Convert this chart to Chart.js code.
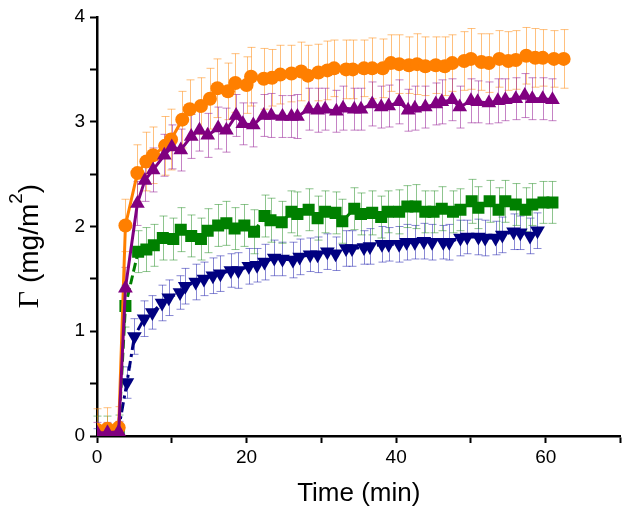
<!DOCTYPE html>
<html>
<head>
<meta charset="utf-8">
<script src="https://cdn.jsdelivr.net/npm/chart.js@4/dist/chart.umd.min.js"></script>
<style>
  html, body { margin: 0; padding: 0; background: #fff; }
  #wrap { width: 629px; height: 516px; position: relative; }
</style>
</head>
<body>
<div id="wrap"><canvas id="c"></canvas></div>
<script>
// ---- Data ----
const xTickLabels = ['0', '20', '40', '60'];
const yTickLabels = ['0', '1', '2', '3', '4'];

const timeOrange = [0, 1.4, 2.9, 3.8, 5.4, 6.6, 7.5, 9.1, 9.9, 11.4, 12.4, 13.9, 15.1, 16.1, 17.5, 18.5, 20.0, 20.6, 22.3, 23.4, 24.5, 26.0, 27.3, 28.2, 29.6, 30.8, 31.7, 33.3, 34.2, 35.7, 36.8, 38.2, 39.3, 40.4, 41.7, 42.8, 43.9, 45.3, 46.5, 47.5, 49.1, 50.0, 51.4, 52.4, 53.8, 55.0, 56.0, 57.4, 58.6, 59.6, 61.1, 62.4];
const gammaOrange = [0.06, 0.07, 0.08, 2.01, 2.51, 2.62, 2.68, 2.77, 2.83, 3.02, 3.12, 3.15, 3.22, 3.32, 3.29, 3.37, 3.35, 3.43, 3.41, 3.42, 3.45, 3.46, 3.48, 3.44, 3.47, 3.49, 3.51, 3.50, 3.50, 3.51, 3.51, 3.51, 3.56, 3.55, 3.54, 3.55, 3.53, 3.54, 3.53, 3.56, 3.58, 3.60, 3.57, 3.56, 3.60, 3.58, 3.59, 3.63, 3.61, 3.61, 3.60, 3.60];
const errOrange = [0.20, 0.20, 0.20, 0.25, 0.27, 0.28, 0.27, 0.28, 0.29, 0.27, 0.28, 0.27, 0.29, 0.28, 0.27, 0.28, 0.27, 0.28, 0.29, 0.27, 0.28, 0.27, 0.28, 0.29, 0.27, 0.28, 0.27, 0.28, 0.28, 0.27, 0.29, 0.28, 0.27, 0.28, 0.27, 0.29, 0.28, 0.27, 0.28, 0.27, 0.28, 0.29, 0.27, 0.28, 0.27, 0.28, 0.28, 0.27, 0.28, 0.27, 0.27, 0.28];

const timePurple = [0, 1.4, 2.9, 3.8, 5.4, 6.4, 7.5, 9.0, 10.0, 11.2, 12.6, 13.7, 14.8, 16.2, 17.3, 18.6, 19.5, 20.9, 22.3, 23.3, 24.8, 26.0, 26.8, 28.3, 29.5, 30.5, 32.0, 32.9, 34.4, 35.3, 36.8, 38.0, 39.0, 40.4, 41.6, 42.5, 43.9, 45.3, 46.1, 47.5, 48.5, 50.0, 50.9, 52.4, 53.6, 54.6, 56.0, 57.2, 58.2, 59.6, 60.9];
const gammaPurple = [0.03, 0.03, 0.04, 1.41, 2.22, 2.44, 2.54, 2.68, 2.76, 2.73, 2.86, 2.92, 2.87, 2.94, 2.92, 3.06, 2.98, 2.97, 3.06, 3.06, 3.05, 3.05, 3.05, 3.12, 3.11, 3.12, 3.10, 3.13, 3.12, 3.12, 3.17, 3.14, 3.15, 3.19, 3.11, 3.13, 3.14, 3.17, 3.19, 3.21, 3.14, 3.20, 3.19, 3.18, 3.20, 3.21, 3.22, 3.25, 3.22, 3.22, 3.21];
const errPurple = [0.10, 0.10, 0.10, 0.20, 0.21, 0.20, 0.21, 0.20, 0.21, 0.20, 0.21, 0.20, 0.21, 0.20, 0.21, 0.20, 0.20, 0.21, 0.20, 0.21, 0.20, 0.20, 0.21, 0.20, 0.21, 0.20, 0.20, 0.21, 0.20, 0.20, 0.21, 0.20, 0.20, 0.21, 0.20, 0.21, 0.20, 0.20, 0.21, 0.20, 0.20, 0.21, 0.20, 0.20, 0.21, 0.20, 0.20, 0.21, 0.20, 0.20, 0.20];

const timeGreen = [0, 1.4, 2.9, 3.8, 5.5, 6.6, 7.6, 8.8, 10.2, 11.2, 12.6, 13.9, 14.8, 16.2, 17.3, 18.4, 19.7, 21.0, 22.4, 23.2, 24.7, 26.0, 26.8, 28.3, 29.5, 30.5, 31.9, 32.8, 34.4, 35.3, 36.8, 38.0, 38.9, 40.4, 41.5, 42.6, 43.9, 45.0, 46.1, 47.6, 48.6, 50.1, 51.0, 52.5, 53.7, 54.6, 56.0, 57.3, 58.2, 59.7, 60.9];
const gammaGreen = [0.04, 0.04, 0.05, 1.24, 1.76, 1.78, 1.82, 1.89, 1.88, 1.97, 1.91, 1.88, 1.96, 2.01, 2.03, 1.98, 2.01, 1.95, 2.10, 2.06, 2.04, 2.14, 2.12, 2.16, 2.08, 2.14, 2.13, 2.05, 2.17, 2.12, 2.13, 2.09, 2.14, 2.14, 2.19, 2.19, 2.14, 2.14, 2.17, 2.14, 2.16, 2.24, 2.18, 2.24, 2.16, 2.24, 2.21, 2.16, 2.21, 2.23, 2.23];
const errGreen = [0.15, 0.15, 0.15, 0.20, 0.20, 0.21, 0.20, 0.21, 0.20, 0.21, 0.20, 0.20, 0.21, 0.20, 0.21, 0.20, 0.20, 0.21, 0.20, 0.21, 0.20, 0.20, 0.21, 0.20, 0.21, 0.20, 0.20, 0.21, 0.20, 0.20, 0.21, 0.20, 0.20, 0.21, 0.20, 0.21, 0.20, 0.20, 0.21, 0.20, 0.20, 0.21, 0.20, 0.20, 0.21, 0.20, 0.20, 0.21, 0.20, 0.20, 0.20];

const timeBlue = [0, 1.4, 2.8, 4.0, 5.0, 6.3, 7.4, 8.7, 9.6, 11.1, 11.8, 13.2, 14.3, 15.5, 16.5, 17.9, 18.9, 20.3, 21.4, 22.4, 23.7, 24.8, 26.2, 27.1, 28.5, 29.5, 30.8, 31.9, 33.3, 34.1, 35.7, 36.5, 38.1, 39.0, 40.4, 41.4, 42.5, 43.7, 44.8, 46.3, 47.1, 48.6, 49.5, 51.0, 51.9, 53.3, 54.2, 55.7, 56.6, 57.9, 58.9];
const gammaBlue = [0.02, 0.02, 0.03, 0.51, 0.95, 1.12, 1.18, 1.27, 1.32, 1.37, 1.43, 1.47, 1.50, 1.53, 1.55, 1.58, 1.58, 1.62, 1.63, 1.66, 1.70, 1.69, 1.68, 1.71, 1.73, 1.73, 1.76, 1.74, 1.79, 1.79, 1.80, 1.81, 1.83, 1.83, 1.83, 1.85, 1.85, 1.86, 1.85, 1.85, 1.85, 1.89, 1.90, 1.90, 1.89, 1.89, 1.92, 1.95, 1.94, 1.91, 1.96];
const errBlue = [0.05, 0.05, 0.05, 0.15, 0.17, 0.17, 0.16, 0.17, 0.17, 0.16, 0.17, 0.17, 0.16, 0.17, 0.17, 0.16, 0.17, 0.17, 0.16, 0.17, 0.17, 0.16, 0.17, 0.17, 0.16, 0.17, 0.17, 0.16, 0.17, 0.17, 0.16, 0.17, 0.17, 0.16, 0.17, 0.17, 0.16, 0.17, 0.17, 0.16, 0.17, 0.17, 0.16, 0.17, 0.17, 0.16, 0.17, 0.17, 0.16, 0.17, 0.17];

// ---- build points ----
function pts(t, v) { return t.map((x, i) => ({ x: x, y: v[i] })); }

// ---- error bar plugin (uses chart scales) ----
const errorBars = {
  id: 'errorBars',
  beforeDatasetsDraw(chart) {
    const { ctx, chartArea, scales: { x, y } } = chart;
    ctx.save();
    ctx.beginPath();
    ctx.rect(chartArea.left - 8, chartArea.top - 8, chartArea.right - chartArea.left + 16, chartArea.bottom - chartArea.top + 8);
    ctx.clip();
    chart.data.datasets.slice().reverse().forEach(ds => {
      const errs = ds.errors || [];
      ctx.strokeStyle = ds.errColor;
      ctx.lineWidth = 1;
      ds.data.forEach((p, j) => {
        const e = errs[j];
        if (e == null) return;
        const px = Math.round(x.getPixelForValue(p.x)) + 0.5;
        const top = y.getPixelForValue(p.y + e);
        const bot = y.getPixelForValue(p.y - e);
        ctx.beginPath();
        ctx.moveTo(px, top); ctx.lineTo(px, bot);
        ctx.moveTo(px - 4, top); ctx.lineTo(px + 4, top);
        ctx.moveTo(px - 4, bot); ctx.lineTo(px + 4, bot);
        ctx.stroke();
      });
    });
    ctx.restore();
  }
};

// ---- y-axis title with mixed fonts / superscript ----
const yTitle = {
  id: 'yTitle',
  afterDraw(chart) {
    const { ctx } = chart;
    const parts = [
      { t: 'Γ', f: '30px "Liberation Serif"', dy: 0 },
      { t: ' (mg/m', f: '28px "Liberation Sans"', dy: 0 },
      { t: '2', f: '19px "Liberation Sans"', dy: -16 },
      { t: ')', f: '28px "Liberation Sans"', dy: 0 }
    ];
    let total = 0;
    parts.forEach(p => { ctx.font = p.f; p.w = ctx.measureText(p.t).width; total += p.w; });
    ctx.save();
    ctx.translate(38, 246);
    ctx.rotate(-Math.PI / 2);
    ctx.fillStyle = '#000';
    ctx.textBaseline = 'alphabetic';
    ctx.textAlign = 'left';
    let cx = -total / 2;
    parts.forEach(p => { ctx.font = p.f; ctx.fillText(p.t, cx, p.dy); cx += p.w; });
    ctx.restore();
  }
};

const ctxEl = document.getElementById('c');
new Chart(ctxEl, {
  type: 'scatter',
  data: {
    datasets: [
      { label: 'purple', data: pts(timePurple, gammaPurple), errors: errPurple, errColor: 'rgba(150,30,150,0.55)',
        showLine: true, borderColor: '#800080', backgroundColor: '#800080', borderWidth: 3,
        pointStyle: 'triangle', pointRadius: 8.5, pointBorderWidth: 0, pointHoverRadius: 8.5 },
      { label: 'orange', data: pts(timeOrange, gammaOrange), errors: errOrange, errColor: 'rgba(255,140,20,0.55)',
        showLine: true, borderColor: '#FF7F00', backgroundColor: '#FF7F00', borderWidth: 3,
        pointStyle: 'circle', pointRadius: 7, pointBorderWidth: 0, pointHoverRadius: 7 },
      { label: 'green', data: pts(timeGreen, gammaGreen), errors: errGreen, errColor: 'rgba(30,140,30,0.5)',
        showLine: true, borderColor: '#008000', backgroundColor: '#008000', borderWidth: 3, borderDash: [9, 4],
        pointStyle: 'rect', pointRadius: 8.5, pointBorderWidth: 0, pointHoverRadius: 8.5 },
      { label: 'blue', data: pts(timeBlue, gammaBlue), errors: errBlue, errColor: 'rgba(20,20,170,0.5)',
        showLine: true, borderColor: '#000080', backgroundColor: '#000080', borderWidth: 3, borderDash: [10, 4, 3, 4],
        pointStyle: 'triangle', rotation: 180, pointRotation: 180, pointRadius: 8.5, pointBorderWidth: 0, pointHoverRadius: 8.5 }
    ]
  },
  options: {
    responsive: true,
    maintainAspectRatio: false,
    animation: false,
    events: [],
    layout: { padding: { top: 17, right: 7, left: 0, bottom: 0 } },
    plugins: { legend: { display: false }, tooltip: { enabled: false } },
    scales: {
      x: {
        type: 'linear', min: 0, max: 70,
        afterFit(s) { s.height = 80; },
        ticks: {
          stepSize: 10, autoSkip: false, maxRotation: 0, padding: 3, color: '#000',
          font: { family: '"Liberation Sans"', size: 19 },
          callback: v => (xTickLabels.includes(String(v)) ? String(v) : '')
        },
        grid: { drawOnChartArea: false, drawTicks: true, tickLength: 7, tickWidth: 2, tickColor: '#000' },
        border: { display: true, color: '#000', width: 2.5 },
        title: { display: true, text: 'Time (min)', color: '#000', font: { family: '"Liberation Sans"', size: 26 }, padding: { top: 0, bottom: 7 } }
      },
      y: {
        type: 'linear', min: 0, max: 4,
        afterFit(s) { s.width = 97; },
        ticks: {
          stepSize: 0.5, autoSkip: false, padding: 5, color: '#000',
          font: { family: '"Liberation Sans"', size: 19 },
          callback: v => (yTickLabels.includes(String(v)) ? String(v) : '')
        },
        grid: { drawOnChartArea: false, drawTicks: true, tickLength: 7, tickWidth: 2, tickColor: '#000' },
        border: { display: true, color: '#000', width: 2.5 }
      }
    }
  },
  plugins: [errorBars, yTitle]
});
</script>
</body>
</html>
